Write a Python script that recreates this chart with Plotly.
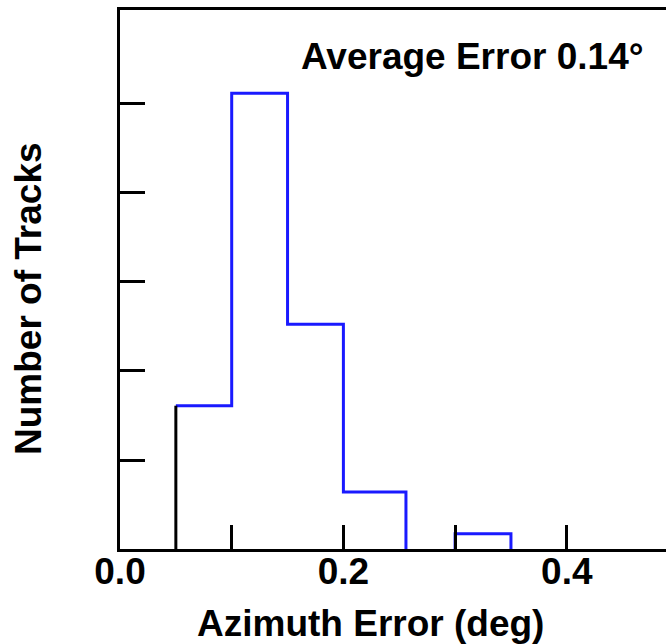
import plotly.graph_objects as go

# Data (y in tick units, ticks unlabeled)
bin_edges = [0.05, 0.10, 0.15, 0.20, 0.256, 0.30, 0.35]
bin_heights = [1.61, 5.12, 2.525, 0.64, 0.0, 0.17]
x_tick_major = [0.0, 0.2, 0.4]
x_tick_labels = ["0.0", "0.2", "0.4"]
x_tick_minor = [0.1, 0.3]
y_tick_vals = [1, 2, 3, 4, 5]
annotation_text = "Average Error 0.14°"
x_title = "Azimuth Error (deg)"
y_title = "Number of Tracks"

W, H = 666, 644
L, R, T, B = 120, 0, 10, 95

# split the histogram outline into runs of non-empty bins
runs = []
cur = None
for i, h in enumerate(bin_heights):
    if h > 0:
        if cur is None:
            cur = {"x": [bin_edges[i]], "y": [0.0]}
        cur["x"].append(bin_edges[i])
        cur["y"].append(h)
    else:
        if cur is not None:
            cur["x"].append(bin_edges[i])
            cur["y"].append(0.0)
            runs.append(cur)
            cur = None
if cur is not None:
    cur["x"].append(bin_edges[-1])
    cur["y"].append(0.0)
    runs.append(cur)

fig = go.Figure()
for k, run in enumerate(runs):
    xs, ys = run["x"], run["y"]
    if k == 0:
        # first bin's left edge is drawn in black; blue outline starts at its top
        xs, ys = xs[1:], ys[1:]
    fig.add_trace(go.Scatter(
        x=xs, y=ys, mode="lines", line_shape="hv",
        line=dict(color="#1a1aff", width=3), hoverinfo="skip", showlegend=False,
    ))
fig.add_trace(go.Scatter(
    x=[bin_edges[0], bin_edges[0]], y=[0, bin_heights[0]], mode="lines",
    line=dict(color="black", width=3), hoverinfo="skip", showlegend=False,
))

font_main = dict(family="Liberation Sans, Arial, sans-serif", size=37, color="black", weight="bold")

pw = W - L - R
ph = H - T - B
x_max = pw / 1117.0

def px_x(x):
    return (x - L) / pw

def px_y(y):
    return (H - B - y) / ph

fig.update_layout(
    width=W, height=H, margin=dict(l=L, r=R, t=T, b=B, autoexpand=False),
    paper_bgcolor="white", plot_bgcolor="white",
    showlegend=False,
    xaxis=dict(
        range=[0.0, x_max], showgrid=False, zeroline=False,
        showline=True, linecolor="black", linewidth=3, mirror=True,
        tickmode="array", tickvals=x_tick_major, ticktext=x_tick_labels,
        ticks="inside", ticklen=24, tickwidth=3, tickcolor="black",
        tickfont=font_main, ticklabelstandoff=-12,
        minor=dict(tickmode="array", tickvals=x_tick_minor, ticks="inside",
                   ticklen=24, tickwidth=3, tickcolor="black", showgrid=False),
    ),
    yaxis=dict(
        range=[0, 6.056], showgrid=False, zeroline=False,
        showline=True, linecolor="black", linewidth=3, mirror=False,
        tickmode="array", tickvals=y_tick_vals, showticklabels=False,
        ticks="inside", ticklen=25, tickwidth=3, tickcolor="black",
    ),
    annotations=[
        dict(text=annotation_text, x=px_x(472), y=px_y(56), xref="paper", yref="paper",
             showarrow=False, font=font_main, xanchor="center", yanchor="middle"),
        dict(text=x_title, x=px_x(370), y=px_y(623), xref="paper", yref="paper",
             showarrow=False, font=font_main, xanchor="center", yanchor="middle"),
        dict(text=y_title, x=px_x(28), y=px_y(299), xref="paper", yref="paper",
             showarrow=False, font=font_main, textangle=-90,
             xanchor="center", yanchor="middle"),
    ],
)

fig.write_html(
    "out.html",
    config={"displayModeBar": False},
    post_script="document.body.style.margin='0';document.body.style.padding='0';",
)
